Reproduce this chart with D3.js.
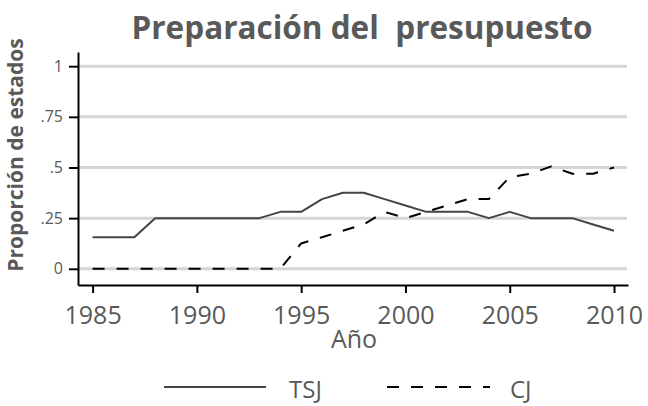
<!DOCTYPE html>
<html>
<head>
<meta charset="utf-8">
<script src="https://cdn.jsdelivr.net/npm/d3@7"></script>
<style>
  html, body { margin: 0; padding: 0; background: #fff; }
  svg { display: block; font-family: "Open Sans", sans-serif; }
</style>
</head>
<body>
<svg id="chart" width="648" height="406"></svg>
<script>
const years = [1985,1986,1987,1988,1989,1990,1991,1992,1993,1994,1995,1996,1997,1998,1999,2000,2001,2002,2003,2004,2005,2006,2007,2008,2009,2010];
const tsj = [0.156,0.156,0.156,0.25,0.25,0.25,0.25,0.25,0.25,0.281,0.281,0.344,0.375,0.375,0.344,0.3125,0.281,0.281,0.281,0.25,0.281,0.25,0.25,0.25,0.219,0.1875];
const cj  = [0,0,0,0,0,0,0,0,0,0,0.125,0.156,0.1875,0.219,0.281,0.25,0.281,0.3125,0.344,0.344,0.453,0.469,0.506,0.469,0.469,0.5];
const yTicks = [0, 0.25, 0.5, 0.75, 1];
const yTickLabels = ["0", ".25", ".5", ".75", "1"];
const xTicks = [1985, 1990, 1995, 2000, 2005, 2010];
const seriesNames = ["TSJ", "CJ"];
const titleText = "Preparación del\u00A0 presupuesto";
const yTitle = "Proporción de estados";
const xTitle = "Año";

const svg = d3.select("#chart");
const textColor = "#595959";

const x = d3.scaleLinear().domain([1984.3, 2010.67]).range([78, 628]);
const y = d3.scaleLinear().domain([-0.08, 1.07]).range([285, 52]);

// gridlines
svg.append("g").selectAll("line").data(yTicks).join("line")
  .attr("x1", 79).attr("x2", 627)
  .attr("y1", d => y(d)).attr("y2", d => y(d))
  .attr("stroke", "#d6d6d6").attr("stroke-width", 3);

// y axis
const yAxis = d3.axisLeft(y).tickValues(yTicks)
  .tickFormat((d, i) => yTickLabels[i]).tickSize(9).tickSizeOuter(0).tickPadding(6);
const gy = svg.append("g").attr("transform", "translate(78,0)").call(yAxis);
gy.select(".domain").attr("stroke", "#000").attr("stroke-width", 2);
gy.selectAll(".tick line").attr("stroke", "#000").attr("stroke-width", 2);
gy.selectAll(".tick text").attr("fill", textColor).style("font-size", "16px")
  .style("font-family", "Open Sans, sans-serif");

// x axis
const xAxis = d3.axisBottom(x).tickValues(xTicks).tickFormat(d3.format("d"))
  .tickSize(8).tickSizeOuter(0).tickPadding(14);
const gx = svg.append("g").attr("transform", "translate(0,285)").call(xAxis);
gx.select(".domain").attr("stroke", "#000").attr("stroke-width", 2);
gx.selectAll(".tick line").attr("stroke", "#000").attr("stroke-width", 2);
gx.selectAll(".tick text").attr("fill", textColor).style("font-size", "25px")
  .attr("dy", null).attr("y", 324 - 285)
  .style("font-family", "Open Sans, sans-serif");

// lines
const line = d3.line().x(d => x(d[0])).y(d => y(d[1]));
const tsjData = years.map((yr, i) => [yr, tsj[i]]);
const cjData = years.map((yr, i) => [yr, cj[i]]);

svg.append("path").datum(tsjData).attr("d", line)
  .attr("fill", "none").attr("stroke", "#444").attr("stroke-width", 2)
  .attr("stroke-linejoin", "round");
svg.append("path").datum(cjData).attr("d", line)
  .attr("fill", "none").attr("stroke", "#000").attr("stroke-width", 2)
  .attr("stroke-dasharray", "12,12");

// title
svg.append("text").attr("x", 362).attr("y", 39).attr("text-anchor", "middle")
  .attr("fill", textColor).style("font-size", "31.5px").style("font-weight", "bold")
  .text(titleText);

// y title
svg.append("text").attr("transform", "translate(23,155) rotate(-90)")
  .attr("text-anchor", "middle").attr("fill", textColor)
  .style("font-size", "21px").style("font-weight", "bold").text(yTitle);

// x title
svg.append("text").attr("x", 354).attr("y", 348).attr("text-anchor", "middle")
  .attr("fill", textColor).style("font-size", "25px").text(xTitle);

// legend
const legend = svg.append("g");
legend.append("line").attr("x1", 164).attr("x2", 266).attr("y1", 387).attr("y2", 387)
  .attr("stroke", "#444").attr("stroke-width", 2);
legend.append("text").attr("x", 289).attr("y", 398).attr("fill", textColor)
  .style("font-size", "24px").text(seriesNames[0]);
legend.append("line").attr("x1", 387).attr("x2", 490).attr("y1", 387).attr("y2", 387)
  .attr("stroke", "#000").attr("stroke-width", 2).attr("stroke-dasharray", "12,12");
legend.append("text").attr("x", 510).attr("y", 398).attr("fill", textColor)
  .style("font-size", "24px").text(seriesNames[1]);
</script>
</body>
</html>
